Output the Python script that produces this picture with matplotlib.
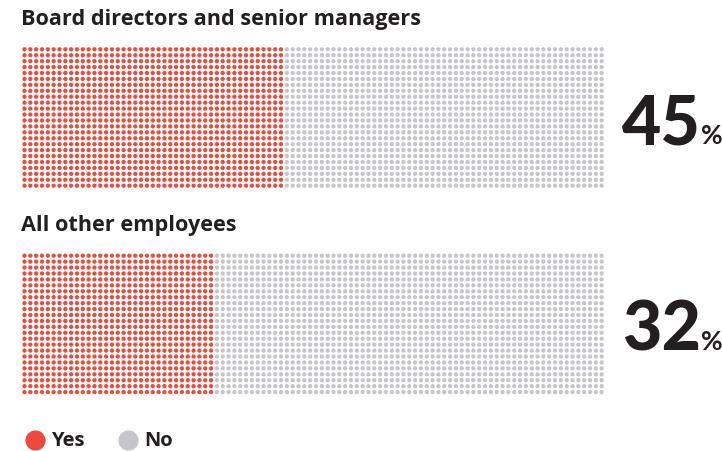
import matplotlib
matplotlib.use("Agg")
import matplotlib.pyplot as plt
import numpy as np

groups = ["Board directors and senior managers", "All other employees"]
yes_pct = [45, 32]
yes_columns = [45, 33]  # red dot columns as drawn in the reference
legend_labels = ["Yes", "No"]

RED = "#ee4a3b"
GREY = "#c6c6ca"
DARK = "#231f20"
FONT = "Open Sans"
NUMFONT = "Lato"

W, H = 722, 452
fig = plt.figure(figsize=(W / 100, H / 100), dpi=100)
ax = fig.add_axes([0, 0, 1, 1])
ax.set_xlim(0, W)
ax.set_ylim(H, 0)
ax.axis("off")

ncols, nrows = 100, 24
x0, dx = 24.5, 5.83
dy = 5.93
grid_top = [50.3, 256.7]
title_y = [20, 226]
num_base = [145, 351]

for gi, (g, p, nc) in enumerate(zip(groups, yes_pct, yes_columns)):
    cols = np.arange(ncols)
    rows = np.arange(nrows)
    cx, cy = np.meshgrid(x0 + cols * dx, grid_top[gi] + rows * dy)
    is_yes = np.meshgrid(cols < nc, rows)[0]
    colors = np.where(is_yes, RED, GREY)
    ax.scatter(cx.ravel(), cy.ravel(), s=9.5, c=colors.ravel(), linewidths=0)
    ax.text(21, title_y[gi], g, fontsize=15.6, fontweight="bold", family=FONT,
            color=DARK, va="center", ha="left")
    t = ax.text(622, num_base[gi], f"{p}", fontsize=49, fontweight="black",
                family=NUMFONT, color=DARK, va="baseline", ha="left")
    ax.annotate("%", xy=(1, 0), xycoords=t, xytext=(0, 9), textcoords="offset points",
                fontsize=19, fontweight="bold", family=NUMFONT, color=DARK,
                va="baseline", ha="left")

# legend
leg_x = [35, 128]
leg_c = [RED, GREY]
for lx, lc, lab in zip(leg_x, leg_c, legend_labels):
    ax.scatter([lx], [441], s=210, c=lc, linewidths=0)
    ax.text(lx + 16, 441, lab, fontsize=14.5, fontweight="bold", family=FONT,
            color=DARK, va="center", ha="left")

fig.savefig("out.png", dpi=100)
